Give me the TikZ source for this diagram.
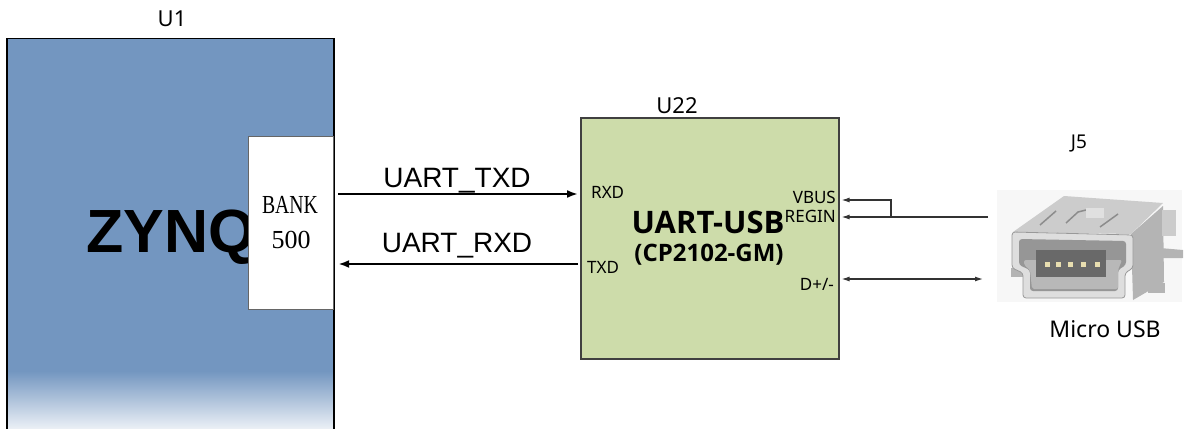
\documentclass[tikz,border=0pt]{standalone}
\usepackage{fontspec}
\setmainfont{Noto Sans}
\newfontfamily\arfont{Liberation Sans}
\newfontfamily\serfont{Liberation Serif}
\newfontfamily\boldsans{Open Sans}
\usetikzlibrary{arrows.meta}
\definecolor{zynqblue}{RGB}{115,150,192}
\definecolor{fadewhite}{RGB}{242,245,249}
\definecolor{chipgreen}{RGB}{205,220,170}
\definecolor{usbbody}{RGB}{222,222,222}
\definecolor{usbtop}{RGB}{204,204,204}
\definecolor{usbside}{RGB}{180,180,180}
\definecolor{usbhole}{RGB}{150,150,150}
\definecolor{usbblock}{RGB}{105,105,105}
\definecolor{usbpin}{RGB}{232,222,176}
\tikzset{
  fs/.style={font=\fontsize{#1}{#1}\selectfont},
  bigarrow/.style={line width=2pt,-{Latex[length=11pt,width=8pt]}},
  smallarrow/.style={line width=1.2pt,color=black!80,-{Latex[length=8pt,width=5pt]}},
  dblarrow/.style={line width=1.2pt,color=black!80,{Latex[length=8pt,width=5pt]}-{Latex[length=8pt,width=5pt]}},
  lbl/.style={inner sep=0pt,anchor=base},
}
\begin{document}
\begin{tikzpicture}[x=1pt,y=-1pt]
\useasboundingbox (0,0) rectangle (1190,428);
% U1 body
\fill[zynqblue] (6,38) rectangle (333,372);
\shade[top color=zynqblue,bottom color=fadewhite] (6,371) rectangle (333,432);
\node[draw=black,line width=1.5pt,minimum width=327pt,minimum height=394pt,anchor=north west,inner sep=0pt] (u1) at (6,38) {};
\node[lbl,fs=22] (u1lbl) at (172,27) {U1};
\node[lbl,anchor=base west,font=\arfont\bfseries\fontsize{61}{61}\selectfont] (zynq) at (86,252) {ZYNQ};
% BANK 500
\node[draw=black!60,fill=white,line width=1.2pt,minimum width=85pt,minimum height=173pt,anchor=north west,inner sep=0pt] (bank) at (248,136) {};
\node[lbl,xscale=0.76,font=\serfont\fontsize{26}{26}\selectfont] (banktxt) at (290,213) {BANK};
\node[lbl,font=\serfont\fontsize{26}{26}\selectfont] (banknum) at (291,248) {500};
% U22
\node[draw=black!75,fill=chipgreen,line width=1.5pt,minimum width=258pt,minimum height=241pt,anchor=north west,inner sep=0pt] (u22) at (580,117) {};
\node[lbl,fs=22] (u22lbl) at (677,113) {U22};
\node[lbl,font=\boldsans\bfseries\fontsize{31}{31}\selectfont] (uartusb) at (708,233) {UART-USB};
\node[lbl,font=\boldsans\bfseries\fontsize{24}{24}\selectfont] (cp) at (709,261) {(CP2102-GM)};
\node[lbl,anchor=base west,fs=17] (rxd) at (591,198) {RXD};
\node[lbl,anchor=base west,fs=17] (txd) at (587,273) {TXD};
\node[lbl,anchor=base east,fs=17] (vbus) at (836,203) {VBUS};
\node[lbl,anchor=base east,fs=17] (regin) at (836,222) {REGIN};
\node[lbl,anchor=base east,fs=17] (dpm) at (834,290) {D+/-};
% UART connections
\draw[bigarrow,shorten <=4pt,shorten >=2pt] (bank.east |- 0,194) -- (u22.west |- 0,194);
\draw[bigarrow,shorten <=2pt,shorten >=4pt] (u22.west |- 0,264) -- (bank.east |- 0,264);
\node[lbl,font=\arfont\fontsize{28}{28}\selectfont] (txdl) at (457,187) {UART\_TXD};
\node[lbl,font=\arfont\fontsize{28}{28}\selectfont] (rxdl) at (457,252) {UART\_RXD};
% right side connections
\coordinate (usbpwr) at (988,217);
\coordinate (usbdat) at (983,279);
\coordinate (branch) at (891,217);
\draw[smallarrow,shorten >=2pt] (usbpwr) -- (u22.east |- usbpwr);
\draw[smallarrow,shorten >=2pt] (branch) |- (u22.east |- 0,200);
\draw[dblarrow,shorten <=2pt] (u22.east |- usbdat) -- (usbdat);
% J5 connector picture
\node[lbl,fs=19] (j5) at (1079,148) {J5};
\node[lbl,fs=23] (usblbl) at (1105,337) {Micro USB};
\begin{scope}[line join=round]
\fill[black!3] (997,190) rectangle (1182,302);
% feet / tabs
\fill[usbside] (1011,268) rectangle (1024,277);
\fill[usbside] (1160,248) -- (1183,250) -- (1183,258) -- (1160,258) -- cycle;
\fill[usbside] (1148,283) -- (1165,283) -- (1165,293) -- (1148,293) -- cycle;
% right side face
\fill[usbside] (1131,234) -- (1163,206) -- (1164,282) -- (1133,300) -- cycle;
\fill[usbtop] (1162,210) rectangle (1176,236);
% top surface
\fill[usbtop] (1013,232) -- (1064,196) -- (1163,203) -- (1131,234) -- cycle;
\draw[black!45,line width=1.5pt] (1040,225) -- (1056,211);
\draw[black!45,line width=1.5pt] (1066,223) -- (1078,212) -- (1086,210);
\draw[black!45,line width=1.5pt] (1100,227) -- (1118,214);
\fill[black!12] (1086,208) rectangle (1104,218);
% front frame
\fill[usbbody,draw=black!40,line width=0.8pt,rounded corners=3pt] (1012,232) -- (1133,235) -- (1133,268) -- (1125,273) -- (1125,298) -- (1023,298) -- (1023,273) -- (1012,268) -- cycle;
\fill[usbhole,rounded corners=3pt] (1019,239) -- (1126,241) -- (1126,265) -- (1118,270) -- (1118,291) -- (1030,291) -- (1030,270) -- (1019,265) -- cycle;
\fill[black!28,rounded corners=2pt] (1024,260) -- (1122,260) -- (1118,270) -- (1118,289) -- (1032,289) -- (1030,270) -- (1024,265) -- cycle;
\fill[usbblock] (1036,250) rectangle (1106,277);
\foreach \px in {1047,1058,1070,1083,1097}{\fill[usbpin] (\px-2.5,262) rectangle (\px+2.5,267);}
\end{scope}
\end{tikzpicture}
\end{document}
